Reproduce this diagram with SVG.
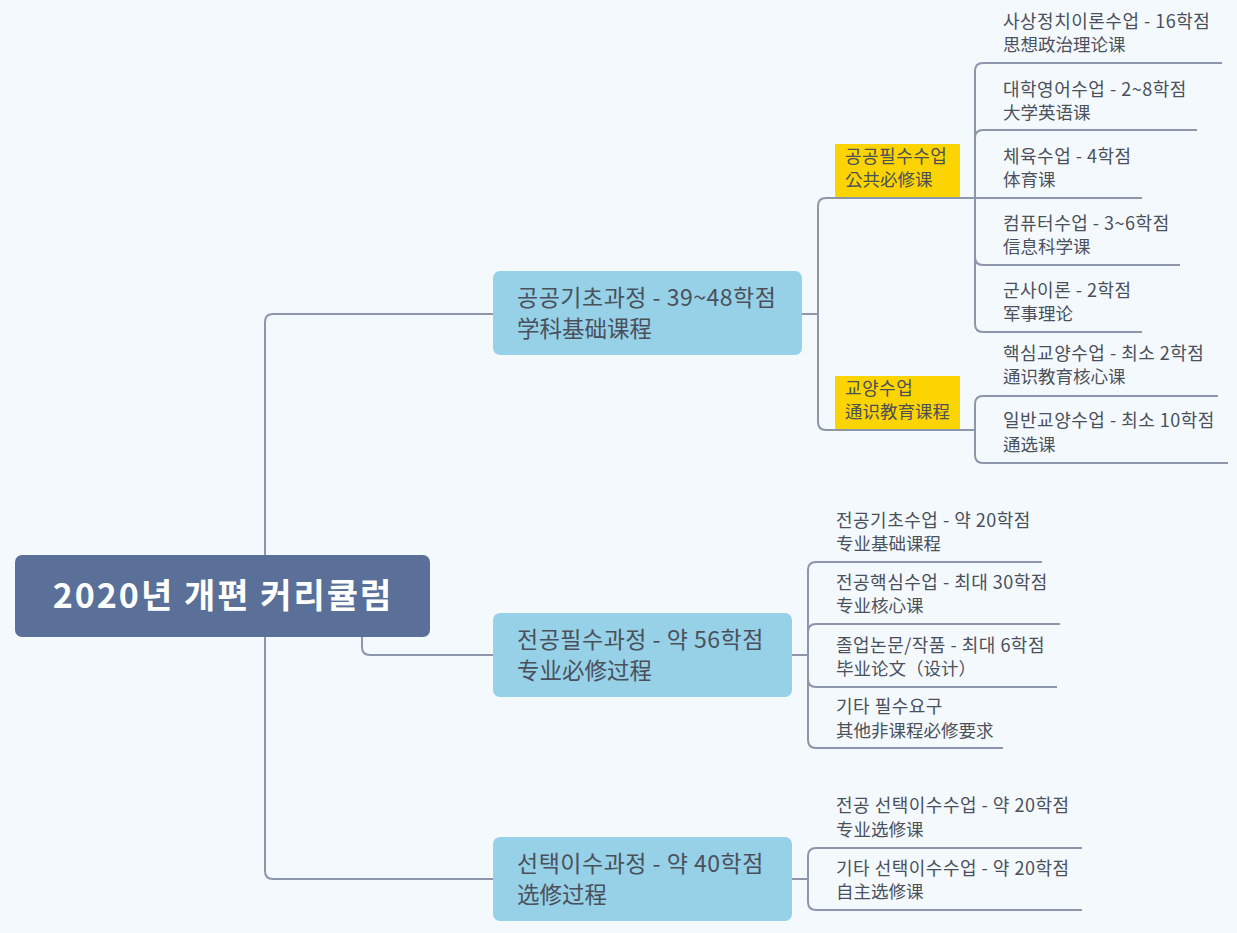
<svg xmlns="http://www.w3.org/2000/svg" width="1237" height="933" viewBox="0 0 1237 933">
<style>
.bg{fill:#f4f9fd}
.c{fill:none;stroke:#8d96aa;stroke-width:2}
.t{font-family:"Noto Sans CJK KR","Noto Sans",sans-serif;fill:#4a505c}
.leaf{font-size:18px;letter-spacing:0.5px}
.zh{font-size:17.5px}
.l1{font-size:23px;letter-spacing:0.5px}
.l1zh{font-size:22.5px}
.root{font-family:"Noto Sans CJK KR","Noto Sans",sans-serif;font-size:34px;font-weight:bold;fill:#ffffff;letter-spacing:2px}
.n1{fill:#96d1e7}
.y{fill:#fcd401}
</style>
<rect class="bg" x="0" y="0" width="1237" height="933"/>
<g id="connectors">
<path class="c" d="M265 555 V322 Q265 314 273 314 H493"/>
<path class="c" d="M265 637 V871 Q265 879 273 879 H493"/>
<path class="c" d="M362 637 V647 Q362 655 370 655 H493"/>
<path class="c" d="M802 314 H818 V206 Q818 198 826 198 H975"/>
<path class="c" d="M818 314 V422 Q818 430 826 430 H975"/>
<path class="c" d="M975 198 V71 Q975 63 983 63 H1222"/>
<path class="c" d="M975 198 V138 Q975 130 983 130 H1197"/>
<path class="c" d="M975 198 H1142"/>
<path class="c" d="M975 198 V257 Q975 265 983 265 H1180"/>
<path class="c" d="M975 198 V324 Q975 332 983 332 H1142"/>
<path class="c" d="M975 430 V404 Q975 396 983 396 H1218"/>
<path class="c" d="M975 430 V455 Q975 463 983 463 H1228"/>
<path class="c" d="M792 655 H808 V570 Q808 562 816 562 H1042"/>
<path class="c" d="M808 655 V632 Q808 624 816 624 H1060"/>
<path class="c" d="M808 655 V679 Q808 687 816 687 H1057"/>
<path class="c" d="M808 655 V740 Q808 748 816 748 H1003"/>
<path class="c" d="M792 879 H808 V856 Q808 848 816 848 H1082"/>
<path class="c" d="M808 879 V902 Q808 910 816 910 H1082"/>
</g>
<g id="root">
<rect x="15" y="555" width="415" height="82" rx="7" fill="#5a7099"/>
<text class="root" x="223" y="608" text-anchor="middle">2020년 개편 커리큘럼</text>
</g>
<g id="n-gonggi">
<rect class="n1" x="493" y="271" width="309" height="84" rx="7"/>
<text class="t l1" x="517" y="306">공공기초과정 - 39~48학점</text>
<text class="t l1zh" x="517" y="337">学科基础课程</text>
</g>
<g id="n-jeonpil">
<rect class="n1" x="493" y="613" width="299" height="84" rx="7"/>
<text class="t l1" x="517" y="648">전공필수과정 - 약 56학점</text>
<text class="t l1zh" x="517" y="679">专业必修过程</text>
</g>
<g id="n-seontaek">
<rect class="n1" x="493" y="837" width="299" height="84" rx="7"/>
<text class="t l1" x="517" y="872">선택이수과정 - 약 40학점</text>
<text class="t l1zh" x="517" y="903">选修过程</text>
</g>
<g id="n-gongpil">
<rect class="y" x="835" y="144" width="125" height="53"/>
<text class="t leaf" x="845" y="163">공공필수수업</text>
<text class="t zh" x="845" y="186">公共必修课</text>
</g>
<g id="n-gyoyang">
<rect class="y" x="835" y="376" width="125" height="53"/>
<text class="t leaf" x="845" y="395">교양수업</text>
<text class="t zh" x="845" y="418">通识教育课程</text>
</g>
<g id="leaf-sasang"><text class="t leaf" x="1003" y="28">사상정치이론수업 - 16학점</text><text class="t zh" x="1003" y="51">思想政治理论课</text></g>
<g id="leaf-english"><text class="t leaf" x="1003" y="96">대학영어수업 - 2~8학점</text><text class="t zh" x="1003" y="119">大学英语课</text></g>
<g id="leaf-pe"><text class="t leaf" x="1003" y="163">체육수업 - 4학점</text><text class="t zh" x="1003" y="186">体育课</text></g>
<g id="leaf-computer"><text class="t leaf" x="1003" y="230">컴퓨터수업 - 3~6학점</text><text class="t zh" x="1003" y="253">信息科学课</text></g>
<g id="leaf-military"><text class="t leaf" x="1003" y="297">군사이론 - 2학점</text><text class="t zh" x="1003" y="320">军事理论</text></g>
<g id="leaf-core-ge"><text class="t leaf" x="1003" y="360">핵심교양수업 - 최소 2학점</text><text class="t zh" x="1003" y="383">通识教育核心课</text></g>
<g id="leaf-general-ge"><text class="t leaf" x="1003" y="427">일반교양수업 - 최소 10학점</text><text class="t zh" x="1003" y="451">通选课</text></g>
<g id="leaf-major-basic"><text class="t leaf" x="836" y="527">전공기초수업 - 약 20학점</text><text class="t zh" x="836" y="550">专业基础课程</text></g>
<g id="leaf-major-core"><text class="t leaf" x="836" y="589">전공핵심수업 - 최대 30학점</text><text class="t zh" x="836" y="612">专业核心课</text></g>
<g id="leaf-thesis"><text class="t leaf" x="836" y="652">졸업논문/작품 - 최대 6학점</text><text class="t zh" x="836" y="675">毕业论文（设计）</text></g>
<g id="leaf-other-req"><text class="t leaf" x="836" y="713">기타 필수요구</text><text class="t zh" x="836" y="737">其他非课程必修要求</text></g>
<g id="leaf-major-elective"><text class="t leaf" x="836" y="812">전공 선택이수수업 - 약 20학점</text><text class="t zh" x="836" y="836">专业选修课</text></g>
<g id="leaf-free-elective"><text class="t leaf" x="836" y="875">기타 선택이수수업 - 약 20학점</text><text class="t zh" x="836" y="898">自主选修课</text></g>
</svg>
